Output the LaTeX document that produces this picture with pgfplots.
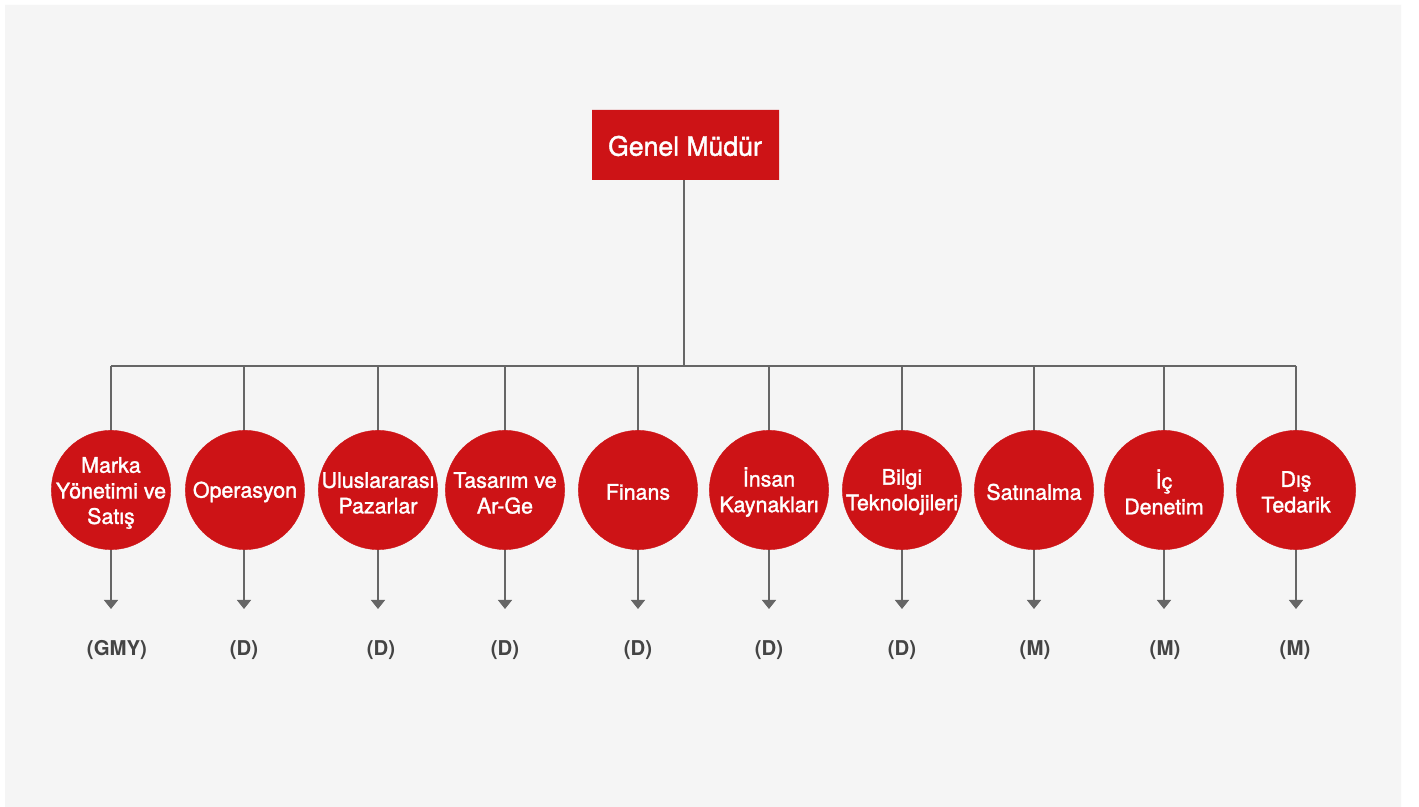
\documentclass[border=0pt]{standalone}
\usepackage{pgfplots}
\pgfplotsset{compat=1.18}
\usepackage{fontspec}
\setmainfont{TeX Gyre Heros}
\newfontfamily\medfont[FakeBold=1.6]{TeX Gyre Heros}
\usetikzlibrary{arrows.meta}

\definecolor{bg}{HTML}{F5F5F5}
\definecolor{boxred}{HTML}{CD1316}
\definecolor{linegray}{HTML}{666666}
\definecolor{labgray}{HTML}{444444}

\tikzset{
  dept/.style={text=white, align=center, font=\medfont\fontsize{10.7}{12.8}\selectfont},
  grade/.style={text=labgray, font=\bfseries\fontsize{10.2}{12}\selectfont},
}

\begin{document}
\begin{tikzpicture}
\begin{axis}[
    scale only axis,
    width=709.5pt, height=403.5pt,
    xmin=0, xmax=1419, ymin=0, ymax=807,
    y dir=reverse,
    hide axis,
    clip=false,
    set layers=standard,
]
% page and panel background
\addplot[fill=white, draw=none] coordinates {(0,0) (1419,0) (1419,807) (0,807) (0,0)};
\addplot[fill=bg, draw=none] coordinates {(5,5) (1401,5) (1401,807) (5,807) (5,5)};

% connectors
\addplot[linegray, line width=0.75pt] coordinates {(684,180) (684,366)};
\addplot[linegray, line width=0.75pt] coordinates {(111,366) (1296,366)};
\pgfplotsinvokeforeach{111,244,378,505,638,769,902,1034,1164,1296}{
  \addplot[linegray, line width=0.75pt] coordinates {(#1,366) (#1,440)};
  \addplot[linegray, line width=0.75pt, -{Triangle[width=7pt,length=4.5pt]}] coordinates {(#1,540) (#1,609)};
}

% top box
\addplot[fill=boxred, draw=none] coordinates {(592,110) (779,110) (779,180) (592,180) (592,110)};

% department circles
\addplot[boxred, only marks, mark=*, mark size=29.8pt, mark options={fill=boxred, draw=boxred, line width=0.2pt}]
  coordinates {(111,490) (245,490) (378,490) (505,490) (638,490) (769,490) (902,490) (1034,490) (1164,490) (1296,490)};

\begin{pgfonlayer}{axis foreground}
\node[text=white, font=\medfont\fontsize{13.3}{15}\selectfont] at (axis cs:685,146) {Genel Müdür};

\node[dept] at (axis cs:111,493) {Marka\\Yönetimi ve\\Satış};
\node[dept] at (axis cs:245,492) {Operasyon};
\node[dept] at (axis cs:378,493) {Uluslararası\\Pazarlar};
\node[dept] at (axis cs:505,493) {Tasarım ve\\Ar-Ge};
\node[dept] at (axis cs:638,492) {Finans};
\node[dept] at (axis cs:769,492) {İnsan\\Kaynakları};
\node[dept] at (axis cs:902,492) {Bilgi\\Teknolojileri};
\node[dept] at (axis cs:1034,492) {Satınalma};
\node[dept] at (axis cs:1164,492) {İç\\Denetim};
\node[dept] at (axis cs:1296,492) {Dış\\Tedarik};

% grade labels
\node[grade] at (axis cs:117,650) {(GMY)};
\node[grade] at (axis cs:244,650) {(D)};
\node[grade] at (axis cs:381,650) {(D)};
\node[grade] at (axis cs:505,650) {(D)};
\node[grade] at (axis cs:638,650) {(D)};
\node[grade] at (axis cs:769,650) {(D)};
\node[grade] at (axis cs:902,650) {(D)};
\node[grade] at (axis cs:1035,650) {(M)};
\node[grade] at (axis cs:1165,650) {(M)};
\node[grade] at (axis cs:1295,650) {(M)};
\end{pgfonlayer}
\end{axis}
\end{tikzpicture}
\end{document}
